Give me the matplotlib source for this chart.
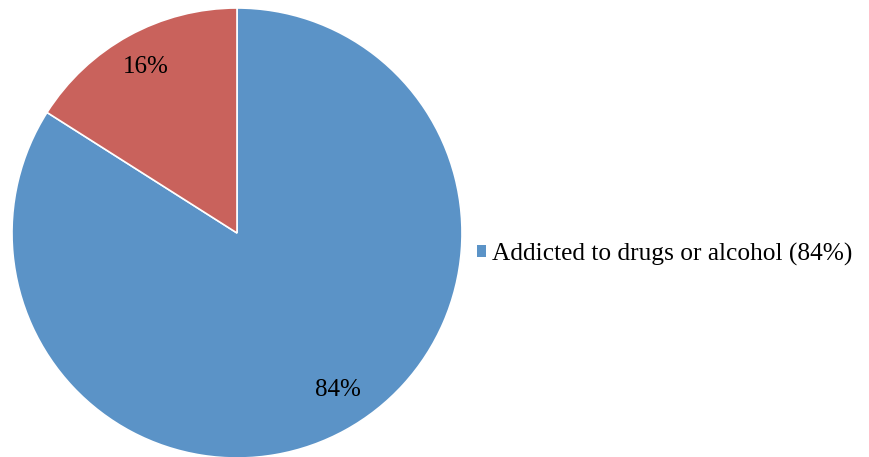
import matplotlib
matplotlib.use('Agg')
import matplotlib.pyplot as plt
from matplotlib.patches import Patch

plt.rcParams['font.family'] = ['Liberation Serif', 'DejaVu Serif']

# data
labels = ['Addicted to drugs or alcohol (84%)', 'Not addicted (16%)']
values = [84, 16]
colors = ['#5B93C7', '#C9625C']

fig = plt.figure(figsize=(8.69, 4.57), dpi=100)
# pie axes placed in pixels: x 12..462, y 8..458 from top
ax = fig.add_axes([12 / 869, -1 / 457, 450 / 869, 450 / 457])
wedges, texts, autotexts = ax.pie(values, colors=colors, startangle=90, counterclock=False,
                                  autopct='%d%%', pctdistance=0.84,
                                  wedgeprops=dict(edgecolor='white', linewidth=1.2),
                                  textprops=dict(fontsize=18, color='black'))
# nudge the big label a little toward the reference spot
autotexts[0].set_position((0.45, -0.70))
ax.set_xlim(-1, 1)
ax.set_ylim(-1, 1)
ax.set_aspect('equal')
ax.axis('off')

# only the first category appears in the legend
handle = Patch(facecolor=colors[0], edgecolor='none')
fig.legend([handle], [labels[0]], loc='center left', bbox_to_anchor=(477 / 869, 1 - 254 / 457),
           frameon=False, fontsize=18.3, handlelength=0.35, handleheight=0.35,
           handletextpad=0.25, borderpad=0, borderaxespad=0)

fig.savefig('out.png', dpi=100)
